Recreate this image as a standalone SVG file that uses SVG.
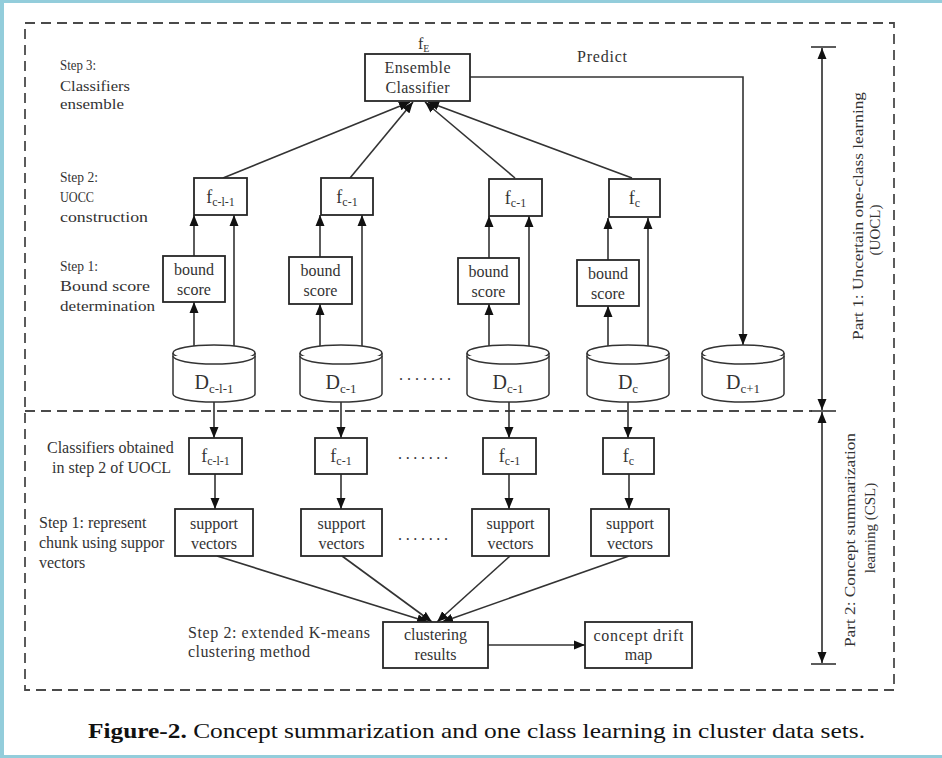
<svg xmlns="http://www.w3.org/2000/svg" width="942" height="758" viewBox="0 0 942 758">
<style>
  .bg{fill:#ffffff}
  .edge{fill:#93cddb}
  .frame{fill:none;stroke:#4a4a4a;stroke-width:1.8;stroke-dasharray:10 6}
  .box{fill:#ffffff;stroke:#262626;stroke-width:1.8}
  .cyl{fill:#ffffff;stroke:#333333;stroke-width:1.5}
  .ln{fill:none;stroke:#333333;stroke-width:1.6}
  .arr{fill:none;stroke:#333333;stroke-width:1.6;marker-end:url(#ah)}
  .dbl{fill:none;stroke:#555555;stroke-width:2;marker-start:url(#ah2);marker-end:url(#ah)}
  .t{font-family:"Liberation Serif","Times New Roman",serif;fill:#333333}
  .lab{font-size:14px}
  .lab16{font-size:16px}
  .c{text-anchor:middle}
  .cap{font-family:"Liberation Serif","Times New Roman",serif;font-size:21px;fill:#111111}
</style>
<defs>
  <marker id="ah" markerUnits="userSpaceOnUse" markerWidth="11" markerHeight="10" viewBox="0 0 11 10" refX="11" refY="5" orient="auto">
    <path d="M0,0.5 L11,5 L0,9.5 z" fill="#111111"/>
  </marker>
  <marker id="ah2" markerUnits="userSpaceOnUse" markerWidth="11" markerHeight="10" viewBox="0 0 11 10" refX="11" refY="5" orient="auto-start-reverse">
    <path d="M0,0.5 L11,5 L0,9.5 z" fill="#111111"/>
  </marker>
</defs>

<rect class="bg" x="0" y="0" width="942" height="758"/>
<rect class="edge" x="0" y="0" width="942" height="3"/>
<rect class="edge" x="0" y="0" width="4" height="758"/>
<rect class="edge" x="0" y="755" width="942" height="3"/>

<!-- frame -->
<g id="frame">
  <rect class="frame" x="25" y="23" width="869" height="667"/>
  <line class="frame" x1="25" y1="411" x2="812" y2="411"/>
</g>

<!-- connectors -->
<g id="connectors">
  <line class="arr" x1="223" y1="178" x2="410" y2="102"/>
  <line class="arr" x1="350" y1="178" x2="413" y2="102"/>
  <line class="arr" x1="515" y1="178" x2="425" y2="102"/>
  <line class="arr" x1="632" y1="178" x2="428" y2="102"/>
  <polyline class="arr" points="470,77 743,77 743,345"/>
  <line class="arr" x1="194" y1="256" x2="194" y2="215"/>
  <line class="arr" x1="320" y1="257" x2="320" y2="215"/>
  <line class="arr" x1="489" y1="258" x2="489" y2="216"/>
  <line class="arr" x1="608" y1="260" x2="608" y2="218"/>
  <line class="arr" x1="194" y1="346" x2="194" y2="302"/>
  <line class="arr" x1="320" y1="346" x2="320" y2="304"/>
  <line class="arr" x1="489" y1="346" x2="489" y2="304"/>
  <line class="arr" x1="608" y1="346" x2="608" y2="306"/>
  <line class="arr" x1="234" y1="346" x2="234" y2="215"/>
  <line class="arr" x1="362" y1="346" x2="362" y2="215"/>
  <line class="arr" x1="529" y1="346" x2="529" y2="216"/>
  <line class="arr" x1="648" y1="346" x2="648" y2="218"/>
  <line class="arr" x1="214" y1="402" x2="214" y2="438"/>
  <line class="arr" x1="341" y1="402" x2="341" y2="438"/>
  <line class="arr" x1="509" y1="402" x2="509" y2="438"/>
  <line class="arr" x1="628" y1="402" x2="628" y2="438"/>
  <line class="arr" x1="215" y1="474" x2="215" y2="509"/>
  <line class="arr" x1="341" y1="474" x2="341" y2="509"/>
  <line class="arr" x1="509" y1="474" x2="509" y2="509"/>
  <line class="arr" x1="629" y1="474" x2="629" y2="509"/>
  <line class="arr" x1="217" y1="556" x2="428" y2="622"/>
  <line class="arr" x1="342" y1="556" x2="432" y2="622"/>
  <line class="arr" x1="510" y1="556" x2="437" y2="622"/>
  <line class="arr" x1="629" y1="556" x2="442" y2="622"/>
  <line class="arr" x1="488" y1="645" x2="585" y2="645"/>
  <line class="dbl" x1="822" y1="48" x2="822" y2="410"/>
  <line class="dbl" x1="822" y1="412" x2="822" y2="663"/>
  <line class="ln" x1="811" y1="47" x2="836" y2="47"/>
  <line class="ln" x1="811" y1="411" x2="836" y2="411"/>
  <line class="ln" x1="811" y1="664" x2="836" y2="664"/>
</g>

<g id="labels-upper">
  <text class="t lab" x="60" y="70" textLength="36" lengthAdjust="spacingAndGlyphs">Step 3:</text>
  <text class="t lab" x="60" y="91" textLength="70" lengthAdjust="spacingAndGlyphs">Classifiers</text>
  <text class="t lab" x="60" y="109" textLength="64" lengthAdjust="spacingAndGlyphs">ensemble</text>
  <text class="t lab" x="60" y="182" textLength="38" lengthAdjust="spacingAndGlyphs">Step 2:</text>
  <text class="t lab" x="60" y="202" textLength="34" lengthAdjust="spacingAndGlyphs">UOCC</text>
  <text class="t lab" x="60" y="222" textLength="88" lengthAdjust="spacingAndGlyphs">construction</text>
  <text class="t lab" x="60" y="271" textLength="38" lengthAdjust="spacingAndGlyphs">Step 1:</text>
  <text class="t lab" x="60" y="291" textLength="90" lengthAdjust="spacingAndGlyphs">Bound score</text>
  <text class="t lab" x="60" y="311" textLength="95" lengthAdjust="spacingAndGlyphs">determination</text>
</g>
<g id="labels-lower">
  <text class="t lab16" x="47" y="453">Classifiers obtained</text>
  <text class="t lab16" x="52" y="473">in step 2 of UOCL</text>
  <text class="t lab16" x="39" y="528">Step 1: represent</text>
  <text class="t lab16" x="39" y="548">chunk using suppor</text>
  <text class="t lab16" x="39" y="568">vectors</text>
  <text class="t lab16" x="188" y="638" textLength="182" lengthAdjust="spacing">Step 2: extended K-means</text>
  <text class="t lab16" x="188" y="657" textLength="122" lengthAdjust="spacing">clustering method</text>
  <text class="t lab16" x="577" y="62" textLength="50" lengthAdjust="spacing">Predict</text>
  <text class="t lab16" x="418" y="49">f<tspan font-size="10" dy="3">E</tspan></text>
</g>

<g id="ensemble">
  <rect class="box" x="365" y="54" width="105" height="47"/>
  <text class="t lab16 c" x="417.5" y="73" textLength="66" lengthAdjust="spacing">Ensemble</text>
  <text class="t lab16 c" x="417.5" y="93" textLength="64" lengthAdjust="spacing">Classifier</text>
</g>

<g id="f-up-1">
  <rect class="box" x="194" y="178" width="53" height="37"/>
  <text class="t c" x="220.5" y="203" font-size="18">f<tspan font-size="12" dy="3">c-l-1</tspan></text>
</g>
<g id="f-up-2">
  <rect class="box" x="321" y="178" width="52" height="37"/>
  <text class="t c" x="347" y="203" font-size="18">f<tspan font-size="12" dy="3">c-1</tspan></text>
</g>
<g id="f-up-3">
  <rect class="box" x="489" y="179" width="53" height="37"/>
  <text class="t c" x="515.5" y="204" font-size="18">f<tspan font-size="12" dy="3">c-1</tspan></text>
</g>
<g id="f-up-4">
  <rect class="box" x="609" y="179" width="51" height="38"/>
  <text class="t c" x="634.5" y="204" font-size="18">f<tspan font-size="12" dy="3">c</tspan></text>
</g>

<g id="bound-1">
  <rect class="box" x="163" y="256" width="62" height="46"/>
  <text class="t lab16 c" x="194" y="275">bound</text>
  <text class="t lab16 c" x="194" y="295">score</text>
</g>
<g id="bound-2">
  <rect class="box" x="289" y="257" width="63" height="47"/>
  <text class="t lab16 c" x="320.5" y="276">bound</text>
  <text class="t lab16 c" x="320.5" y="296">score</text>
</g>
<g id="bound-3">
  <rect class="box" x="458" y="258" width="61" height="46"/>
  <text class="t lab16 c" x="488.5" y="277">bound</text>
  <text class="t lab16 c" x="488.5" y="297">score</text>
</g>
<g id="bound-4">
  <rect class="box" x="577" y="260" width="62" height="46"/>
  <text class="t lab16 c" x="608" y="279">bound</text>
  <text class="t lab16 c" x="608" y="299">score</text>
</g>

<g id="D-1">
  <path class="cyl" d="M173,353 L173,394 A41,8 0 0 0 255,394 L255,353"/>
  <ellipse class="cyl" cx="214" cy="353" rx="41" ry="8"/>
  <path class="cyl" d="M173,356 A41,8 0 0 0 255,356"/>
  <text class="t c" x="214" y="389" font-size="20">D<tspan font-size="13" dy="4">c-l-1</tspan></text>
</g>
<g id="D-2">
  <path class="cyl" d="M300,353 L300,394 A41,8 0 0 0 382,394 L382,353"/>
  <ellipse class="cyl" cx="341" cy="353" rx="41" ry="8"/>
  <path class="cyl" d="M300,356 A41,8 0 0 0 382,356"/>
  <text class="t c" x="341" y="389" font-size="20">D<tspan font-size="13" dy="4">c-1</tspan></text>
</g>
<g id="D-3">
  <path class="cyl" d="M467,353 L467,394 A41,8 0 0 0 549,394 L549,353"/>
  <ellipse class="cyl" cx="508" cy="353" rx="41" ry="8"/>
  <path class="cyl" d="M467,356 A41,8 0 0 0 549,356"/>
  <text class="t c" x="508" y="389" font-size="20">D<tspan font-size="13" dy="4">c-1</tspan></text>
</g>
<g id="D-4">
  <path class="cyl" d="M587,353 L587,394 A41,8 0 0 0 669,394 L669,353"/>
  <ellipse class="cyl" cx="628" cy="353" rx="41" ry="8"/>
  <path class="cyl" d="M587,356 A41,8 0 0 0 669,356"/>
  <text class="t c" x="628" y="389" font-size="20">D<tspan font-size="13" dy="4">c</tspan></text>
</g>
<g id="D-5">
  <path class="cyl" d="M702,353 L702,394 A41,8 0 0 0 784,394 L784,353"/>
  <ellipse class="cyl" cx="743" cy="353" rx="41" ry="8"/>
  <path class="cyl" d="M702,356 A41,8 0 0 0 784,356"/>
  <text class="t c" x="743" y="389" font-size="20">D<tspan font-size="13" dy="4">c+1</tspan></text>
</g>

<g id="dots">
  <text class="t lab16" x="399" y="380" textLength="52" lengthAdjust="spacing">.......</text>
  <text class="t lab16" x="398" y="459" textLength="50" lengthAdjust="spacing">.......</text>
  <text class="t lab16" x="398" y="540" textLength="50" lengthAdjust="spacing">.......</text>
</g>

<g id="f-low-1">
  <rect class="box" x="189" y="438" width="53" height="36"/>
  <text class="t c" x="215.5" y="462" font-size="18">f<tspan font-size="12" dy="3">c-l-1</tspan></text>
</g>
<g id="f-low-2">
  <rect class="box" x="315" y="438" width="52" height="36"/>
  <text class="t c" x="341" y="462" font-size="18">f<tspan font-size="12" dy="3">c-1</tspan></text>
</g>
<g id="f-low-3">
  <rect class="box" x="483" y="438" width="53" height="36"/>
  <text class="t c" x="509.5" y="462" font-size="18">f<tspan font-size="12" dy="3">c-1</tspan></text>
</g>
<g id="f-low-4">
  <rect class="box" x="603" y="438" width="51" height="36"/>
  <text class="t c" x="628.5" y="462" font-size="18">f<tspan font-size="12" dy="3">c</tspan></text>
</g>

<g id="sv-1">
  <rect class="box" x="175" y="509" width="78" height="47"/>
  <text class="t lab16 c" x="214" y="529">support</text>
  <text class="t lab16 c" x="214" y="549">vectors</text>
</g>
<g id="sv-2">
  <rect class="box" x="301" y="509" width="81" height="47"/>
  <text class="t lab16 c" x="341.5" y="529">support</text>
  <text class="t lab16 c" x="341.5" y="549">vectors</text>
</g>
<g id="sv-3">
  <rect class="box" x="472" y="509" width="77" height="47"/>
  <text class="t lab16 c" x="510.5" y="529">support</text>
  <text class="t lab16 c" x="510.5" y="549">vectors</text>
</g>
<g id="sv-4">
  <rect class="box" x="591" y="509" width="78" height="47"/>
  <text class="t lab16 c" x="630" y="529">support</text>
  <text class="t lab16 c" x="630" y="549">vectors</text>
</g>

<g id="clustering">
  <rect class="box" x="383" y="622" width="105" height="46"/>
  <text class="t lab16 c" x="435.5" y="640">clustering</text>
  <text class="t lab16 c" x="435.5" y="660">results</text>
</g>
<g id="drift">
  <rect class="box" x="585" y="622" width="107" height="46"/>
  <text class="t lab16 c" x="638.5" y="641" textLength="90" lengthAdjust="spacing">concept drift</text>
  <text class="t lab16 c" x="638.5" y="660">map</text>
</g>

<g id="part-labels">
  <text class="t c" font-size="15" transform="translate(863,216) rotate(-90)" x="0" y="0" textLength="248" lengthAdjust="spacingAndGlyphs">Part 1: Uncertain one-class learning</text>
  <text class="t c" font-size="15" transform="translate(880,230) rotate(-90)" x="0" y="0">(UOCL)</text>
  <text class="t c" font-size="15" transform="translate(855,540) rotate(-90)" x="0" y="0" textLength="214" lengthAdjust="spacingAndGlyphs">Part 2: Concept summarization</text>
  <text class="t c" font-size="15" transform="translate(875,528) rotate(-90)" x="0" y="0">learning (CSL)</text>
</g>

<text class="cap" x="88" y="738" textLength="777" lengthAdjust="spacingAndGlyphs"><tspan font-weight="bold">Figure-2.</tspan> Concept summarization and one class learning in cluster data sets.</text>
</svg>
